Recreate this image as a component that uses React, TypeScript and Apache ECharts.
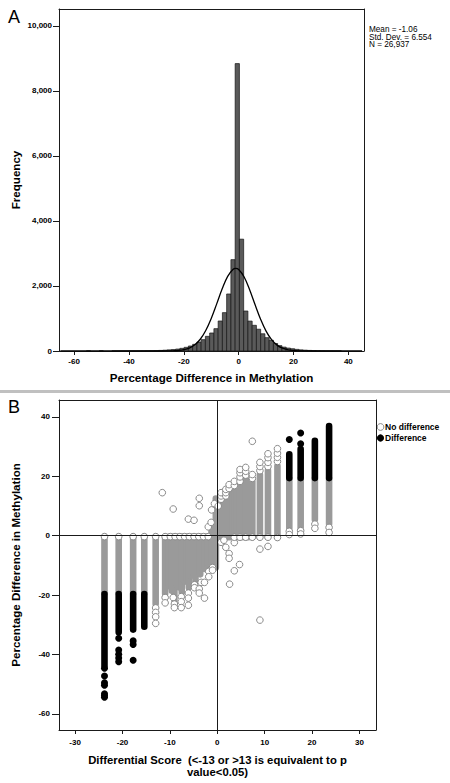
import React, { useEffect, useRef } from "react";
import * as echarts from "echarts";

const FONT = '"Liberation Sans", Arial, Helvetica, sans-serif';

// ---------- Panel A: histogram ----------
const HIST_FIRST_EDGE = -55.525;
const HIST_BIN_WIDTH = 1.55;
const HIST_COUNTS = [
  1, 0, 0, 1, 0, 0, 1, 1, 1, 1, 2, 2, 3, 4, 6, 8, 12, 18, 25, 35, 45, 60, 82, 113,
  154, 205, 277, 349, 451, 554, 687, 923, 1180, 1754, 2810, 8840, 3440, 1230, 920,
  790, 670, 530, 410, 330, 230, 165, 120, 90, 70, 50, 35, 25, 18, 12, 8, 5, 3, 2, 1, 1,
];
const NORMAL_X = [-65, -40, -30, -26, -24, -22, -20, -18, -16, -14, -12, -10, -8, -6, -4, -2, -1.06, 0, 2, 4, 6, 8, 10, 12, 14, 16, 18, 20, 22, 24, 28, 45];
const NORMAL_Y = [0, 0, 0.2, 2, 6, 15, 39, 90, 189, 361, 631, 1002, 1450, 1912, 2297, 2514, 2540, 2507, 2278, 1885, 1422, 977, 611, 349, 181, 86, 37, 15, 5, 2, 0.2, 0];
const HIST_X_TICKS = [-60, -40, -20, 0, 20, 40];
const HIST_Y_TICKS = [0, 2000, 4000, 6000, 8000, 10000];
const STATS = ["Mean = -1.06", "Std. Dev. = 6.554", "N = 26,937"];

// ---------- Panel B: scatter ----------
const SC_X_TICKS = [-30, -20, -10, 0, 10, 20, 30];
const SC_Y_TICKS = [-60, -40, -20, 0, 20, 40];
// [score, lowest %diff, highest %diff] of dense runs of grey points
const GRAY_COLUMNS = [
  [-23.8, -19.4, -0.3], [-20.8, -19.4, -0.3], [-17.75, -19.4, -0.3], [-15.4, -19.4, -0.3],
  [-13.0, -23.0, -0.3], [-11.0, -19.5, -0.3],
  [-10.2, -17.0, -0.3], [-9.6, -18.5, -0.3], [-9.05, -21.9, -0.3], [-8.5, -16.5, -0.3],
  [-8.0, -17.4, -0.3], [-7.5, -19.1, -0.3], [-7.0, -15.2, -0.3], [-6.5, -15.5, -0.3],
  [-6.0, -17.4, -0.3], [-5.5, -13.5, -0.3], [-5.0, -13.0, -0.3], [-4.6, -15.2, -0.3],
  [-4.1, -12.0, -0.3], [-3.6, -13.0, -0.3], [-3.1, -11.0, -0.3], [-2.6, -11.2, -0.3],
  [-2.1, -10.0, -0.3], [-1.7, -10.1, -0.3], [-1.2, -9.0, 1.5], [-0.8, -9.0, 3.0],
  [-0.3, -10.7, 12.5],
  [0.2, -0.5, 8], [0.7, -0.5, 9.5], [1.2, -0.5, 10.5], [1.7, -0.5, 11.5], [2.2, -0.5, 12.5],
  [2.7, -0.5, 13.5], [3.2, -0.5, 14.5], [3.6, -0.5, 15.5], [4.2, -0.5, 16.5], [4.8, -0.5, 17.5],
  [5.4, -0.5, 17.5], [6.0, -0.5, 19], [6.6, -0.5, 18.5], [7.4, -0.5, 18.5], [9.0, -0.5, 20.5],
  [10.7, -0.5, 22], [12.7, -0.6, 23.5],
  [15.2, 2.5, 19.2], [17.6, 2.0, 19.2], [20.6, 5.5, 19.2], [23.6, 4.0, 19.2],
];
const GRAY_POINTS = [
  [-23.8, -0.3], [-20.8, -0.3], [-17.75, -0.3], [-15.4, -0.3], [-13.0, -0.3], [-11.0, -0.3],
  [-9.9, -0.3], [-8.9, -0.3], [-7.9, -0.3], [-6.9, -0.3], [-5.9, -0.3], [-4.9, -0.3],
  [-3.9, -0.3], [-2.9, -0.3], [-1.9, -0.3],
  [-13.0, -24.3], [-13.0, -25.8], [-13.0, -27.3], [-13.0, -29.5], [-11.0, -20.8], [-11.0, -22.6],
  [-9.3, -20.8], [-9.05, -23.0], [-9.05, -24.2], [-7.6, -20.5], [-7.6, -22.2], [-7.6, -24.2],
  [-6.1, -19.3], [-6.1, -21.0], [-6.1, -23.4], [-4.8, -16.5], [-4.8, -17.5], [-3.8, -17.9],
  [-3.8, -19.3], [-3.4, -15.7], [-2.7, -15.7], [-2.7, -21.0], [-1.8, -12.0], [-1.8, -13.8],
  [-1.0, -10.7], [-1.0, -11.6],
  [-11.6, 14.5], [-9.3, 9.0], [-6.1, 5.6], [-4.9, 5.2], [-3.8, 12.6], [-3.8, 10.1],
  [-1.2, 8.7], [-0.6, 10.8], [-1.9, 3.0], [-1.3, 4.5],
  [0.8, -2.2], [1.4, -1.5], [1.8, -3.9], [2.5, -6.0], [2.5, -7.6], [3.6, -2.3], [3.6, -11.8],
  [4.7, -9.7], [2.6, -16.3], [9.0, -4.5], [10.7, -3.6], [9.0, -28.4],
  [3.6, -0.5], [4.8, -0.5], [6.0, -0.5], [7.4, -0.5], [9.0, -0.5], [10.7, -0.5], [12.7, -0.6],
  [0.2, 10], [0.8, 12.3], [0.8, 13.4], [0.8, 14.5], [1.8, 13.4], [1.8, 14.5], [1.8, 15.6],
  [2.5, 15.9], [2.5, 17.2], [3.6, 16.9], [3.6, 18.3], [4.8, 18.3], [4.8, 19.8], [4.8, 21.2],
  [4.8, 22.3], [6.0, 20.4], [6.0, 21.7], [6.0, 23.0], [7.4, 19.3], [7.4, 20.6], [7.4, 31.8],
  [9.0, 21.9], [9.0, 23.3], [9.0, 24.7], [10.7, 23.3], [10.7, 24.7], [10.7, 26.3], [10.7, 27.6],
  [12.7, 25.0], [12.7, 26.4], [12.7, 27.8], [12.7, 29.3],
  [15.2, 1.5], [15.2, 0.4], [17.6, 1.7], [17.6, 0.6], [20.6, 3.9], [20.6, 2.5], [23.6, 2.8], [23.6, 1.1],
];
const BLACK_COLUMNS = [
  [-23.8, -43.8, -19.6], [-20.8, -32.5, -19.6], [-17.75, -31.6, -19.6], [-15.4, -30.6, -19.6],
  [15.2, 19.4, 27.4], [17.6, 19.4, 29.2], [20.6, 19.4, 32.0], [23.6, 19.4, 36.9],
];
const BLACK_POINTS = [
  [-23.8, -44.6], [-23.8, -47.2], [-23.8, -49.5], [-23.8, -50.3], [-23.8, -53.2], [-23.8, -53.8],
  [-23.8, -54.4], [-20.8, -34.5], [-20.8, -38.5], [-20.8, -39.9], [-20.8, -41.2], [-20.8, -42.4],
  [-17.75, -35.4], [-17.75, -36.6], [-17.75, -41.9], [15.2, 32.4], [17.6, 31.0], [17.6, 34.6],
];
const LEGEND = ["No difference", "Difference"];

const DOT = 6.6;
const GRAY_FILL = "#9a9a9a";
const GRAY_LINE = "#8a8a8a";
const FRAME = "#1a1a1a";

function capsule(fill: string) {
  return (params: any, api: any) => {
    const x = api.value(0);
    const top = api.coord([x, api.value(2)]);
    const bot = api.coord([x, api.value(1)]);
    return {
      type: "rect",
      shape: { x: top[0] - DOT / 2, y: top[1] - DOT / 2, width: DOT, height: bot[1] - top[1] + DOT, r: DOT / 2 },
      style: { fill, stroke: null },
    };
  };
}

function buildOption() {
  const histData = HIST_COUNTS.map((c, i) => [
    HIST_FIRST_EDGE + i * HIST_BIN_WIDTH,
    HIST_FIRST_EDGE + (i + 1) * HIST_BIN_WIDTH,
    c,
  ]).filter((d) => d[2] > 0);
  const normalData = NORMAL_X.map((x, i) => [x, NORMAL_Y[i]]);
  const labelStyle = { color: "#000", fontSize: 8, fontWeight: "bold", fontFamily: FONT };
  const line = { show: true, onZero: false, lineStyle: { color: FRAME, width: 1 } };

  const mainAxis = (gridIndex: number, min: number, max: number, ticks: number[], len: number, margin: number, fmt?: any) => ({
    type: "value", gridIndex, min, max,
    axisLine: line, splitLine: { show: false },
    axisTick: { show: true, customValues: ticks, length: len, lineStyle: { color: FRAME } },
    axisLabel: { customValues: ticks, margin, ...labelStyle, ...(fmt ? { formatter: fmt } : {}) },
  });
  const frameAxis = (gridIndex: number, min: number, max: number, position: string) => ({
    type: "value", gridIndex, min, max, position,
    axisLine: line, splitLine: { show: false }, axisTick: { show: false }, axisLabel: { show: false },
  });

  const text = (t: string, x: number, y: number, size: number, bold: boolean, align = "left", rotation = 0) => ({
    type: "text",
    x,
    y,
    rotation,
    silent: true,
    style: {
      text: t,
      fill: "#000",
      font: `${bold ? "bold " : ""}${size}px ${FONT}`,
      textAlign: align,
      textVerticalAlign: "middle",
    },
  });

  return {
    animation: false,
    backgroundColor: "#fff",
    textStyle: { fontFamily: FONT },
    grid: [
      { left: 59, top: 9, width: 305, height: 342, outerBoundsMode: "none" },
      { left: 59, top: 400, width: 317, height: 330, outerBoundsMode: "none" },
    ],
    xAxis: [
      mainAxis(0, -65.5, 45.7, HIST_X_TICKS, 4, 6),
      mainAxis(1, -33.4, 33.5, SC_X_TICKS, 4, 8),
      frameAxis(0, -65.5, 45.7, "top"),
      frameAxis(1, -33.4, 33.5, "top"),
    ],
    yAxis: [
      mainAxis(0, 0, 10520, HIST_Y_TICKS, 6, 7, (v: number) => v.toLocaleString("en-US")),
      mainAxis(1, -65.4, 45.7, SC_Y_TICKS, 7, 9),
      frameAxis(0, 0, 10520, "right"),
      frameAxis(1, -65.4, 45.7, "right"),
    ],
    series: [
      {
        type: "custom", name: "Frequency", xAxisIndex: 0, yAxisIndex: 0, z: 2,
        data: histData, encode: { x: [0, 1], y: 2 },
        renderItem: (params: any, api: any) => {
          const a = api.coord([api.value(0), api.value(2)]);
          const b = api.coord([api.value(1), 0]);
          return {
            type: "rect",
            shape: { x: a[0], y: a[1], width: b[0] - a[0], height: b[1] - a[1] },
            style: { fill: "#5a5a5a", stroke: "#151515", lineWidth: 0.7 },
          };
        },
      },
      {
        type: "line", name: "Normal", xAxisIndex: 0, yAxisIndex: 0, z: 3,
        data: normalData, smooth: 0.4, symbol: "none", showSymbol: false,
        lineStyle: { color: "#000", width: 1.3 },
      },
      {
        type: "custom", name: LEGEND[0], xAxisIndex: 1, yAxisIndex: 1, z: 2,
        data: GRAY_COLUMNS, encode: { x: 0, y: [1, 2] },
        renderItem: capsule(GRAY_FILL),
      },
      {
        type: "scatter", name: LEGEND[0], xAxisIndex: 1, yAxisIndex: 1, z: 3,
        data: GRAY_POINTS, symbol: "circle", symbolSize: DOT,
        itemStyle: { color: "#fff", borderColor: GRAY_LINE, borderWidth: 1, opacity: 1 },
      },
      {
        type: "custom", name: LEGEND[1], xAxisIndex: 1, yAxisIndex: 1, z: 4,
        data: BLACK_COLUMNS, encode: { x: 0, y: [1, 2] },
        renderItem: capsule("#000"),
      },
      {
        type: "scatter", name: LEGEND[1], xAxisIndex: 1, yAxisIndex: 1, z: 5,
        data: BLACK_POINTS, symbol: "circle", symbolSize: DOT + 0.4,
        itemStyle: { color: "#000", borderColor: "#000", borderWidth: 0, opacity: 1 },
        markLine: {
          silent: true, symbol: ["none", "none"], label: { show: false },
          lineStyle: { color: FRAME, width: 1, type: "solid" },
          emphasis: { disabled: true },
          data: [{ xAxis: 0 }, { yAxis: 0 }],
        },
      },
    ],
    graphic: [
      { type: "rect", silent: true, shape: { x: 0, y: 390, width: 450, height: 3 }, style: { fill: "#c0c0c0" } },
      text("A", 8, 16.5, 18, false),
      text("B", 8, 406.5, 18, false),
      text(STATS[0], 369, 29.3, 8.2, false),
      text(STATS[1], 369, 37, 8.2, false),
      text(STATS[2], 369, 44.7, 8.2, false),
      text("Frequency", 15, 180, 11.6, true, "center", Math.PI / 2),
      text("Percentage Difference in Methylation", 211.5, 377, 11.6, true, "center"),
      text("Percentage Difference in Methylation", 15, 565, 11.6, true, "center", Math.PI / 2),
      text("Differential Score  (<-13 or >13 is equivalent to p", 217.5, 759.5, 11.3, true, "center"),
      text("value<0.05)", 217.5, 771.5, 11.3, true, "center"),
      { type: "circle", silent: true, shape: { cx: 380.5, cy: 427, r: 3.4 }, style: { fill: "#fff", stroke: GRAY_LINE, lineWidth: 1 } },
      { type: "circle", silent: true, shape: { cx: 380.5, cy: 438, r: 3.6 }, style: { fill: "#000" } },
      text(LEGEND[0], 385, 427, 8.5, true),
      text(LEGEND[1], 385, 438, 8.5, true),
    ],
  };
}

export default function App() {
  const ref = useRef<HTMLDivElement>(null);
  useEffect(() => {
    if (!ref.current) return;
    const chart = echarts.init(ref.current, null, { renderer: "svg", width: 450, height: 783 });
    chart.setOption(buildOption() as any);
    return () => chart.dispose();
  }, []);
  return (
    <div
      ref={ref}
      style={{ position: "fixed", left: 0, top: 0, width: 450, height: 783, background: "#fff" }}
    />
  );
}
